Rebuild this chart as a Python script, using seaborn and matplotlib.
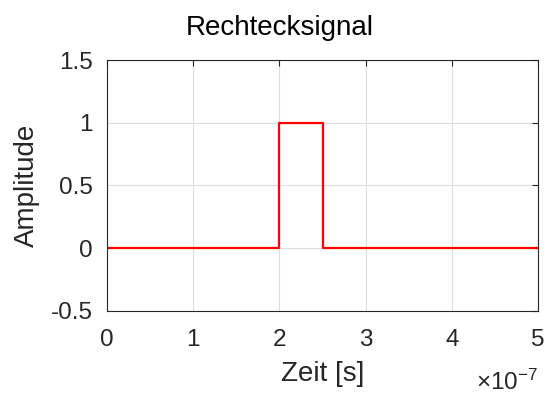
import matplotlib
matplotlib.use("Agg")
import matplotlib.pyplot as plt
from matplotlib.ticker import FuncFormatter
import seaborn as sns
import pandas as pd

# Rectangular pulse: time points (s) and amplitude
zeit = [0.0, 2.0e-7, 2.0e-7, 2.5e-7, 2.5e-7, 5.0e-7]
amplitude = [0, 0, 1, 1, 0, 0]
x_ticks = [0, 1e-7, 2e-7, 3e-7, 4e-7, 5e-7]
y_ticks = [-0.5, 0, 0.5, 1, 1.5]

sns.set_style("white")
plt.rcParams["font.family"] = ["Liberation Sans", "DejaVu Sans"]
plt.rcParams["axes.unicode_minus"] = False
plt.rcParams["mathtext.fontset"] = "custom"
plt.rcParams["mathtext.rm"] = "Liberation Sans"

df = pd.DataFrame({"Zeit": zeit, "Amplitude": amplitude})

fig = plt.figure(figsize=(5.44, 3.94), dpi=100)
ax = fig.add_axes([0.1967, 0.2107, 0.7923, 0.637])

sns.lineplot(data=df, x="Zeit", y="Amplitude", sort=False, estimator=None,
             color="#ff0000", linewidth=1.6, ax=ax)

ax.set_xlim(0, 5e-7)
ax.set_ylim(-0.5, 1.5)
ax.set_xticks(x_ticks)
ax.set_yticks(y_ticks)
ax.xaxis.set_major_formatter(FuncFormatter(lambda v, p: f"{v * 1e7:g}"))
ax.yaxis.set_major_formatter(FuncFormatter(lambda v, p: f"{v:g}"))

ax.grid(True, color="#dcdcdc", linewidth=0.8)
ax.set_axisbelow(True)
for s in ax.spines.values():
    s.set_color("#262626")
    s.set_linewidth(0.8)
ax.tick_params(direction="in", length=4, width=0.8, color="#262626",
               top=True, right=True, labelsize=17.5, labelcolor="#262626")
ax.tick_params(axis="x", pad=13)
ax.tick_params(axis="y", pad=10)

ax.set_xlabel("Zeit [s]", fontsize=20, color="#262626", labelpad=7)
ax.set_ylabel("Amplitude", fontsize=20, color="#262626", labelpad=8)
ax.set_title("Rechtecksignal", fontsize=20, color="black", pad=18, x=0.401)

ax.text(1.0, -0.315, r"$\times\mathregular{10^{-7}}$", transform=ax.transAxes,
        ha="right", va="baseline", fontsize=17.5, color="#262626")

fig.savefig("out.png", dpi=100)
